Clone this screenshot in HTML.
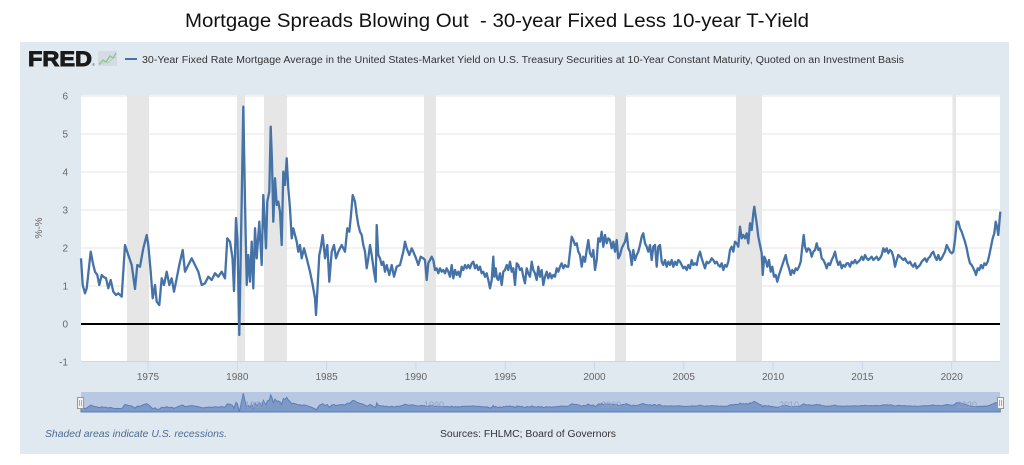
<!DOCTYPE html>
<html>
<head>
<meta charset="utf-8">
<style>
html,body{margin:0;padding:0;background:#fff;width:1024px;height:465px;overflow:hidden;}
svg{display:block;}
text{font-family:"Liberation Sans",sans-serif;}
</style>
</head>
<body>
<svg width="1024" height="465" viewBox="0 0 1024 465" xmlns="http://www.w3.org/2000/svg">
  <!-- Title -->
  <text x="185" y="27" font-size="19" fill="#111" textLength="624" lengthAdjust="spacingAndGlyphs" style="white-space:pre">Mortgage Spreads Blowing Out  - 30-year Fixed Less 10-year T-Yield</text>

  <!-- Panel -->
  <rect x="20" y="42" width="989" height="412" fill="#e1e9f0"/>

  <!-- FRED logo -->
  <text x="28" y="66" font-size="21" font-weight="bold" fill="#1a1a1a" stroke="#1a1a1a" stroke-width="0.9" textLength="64" lengthAdjust="spacingAndGlyphs">FRED</text>
  <text x="92" y="66" font-size="4" fill="#555">®</text>
  <rect x="98" y="51" width="19" height="15" fill="#d3dbe3"/>
  <polyline points="99,64 103,60 106,62 110,56 113,58 116,53" fill="none" stroke="#8fc18f" stroke-width="1.2"/>
  <polyline points="99,65 104,62 108,63 112,59 116,57" fill="none" stroke="#a9cfa9" stroke-width="0.8"/>

  <!-- Legend -->
  <line x1="125" y1="59" x2="137" y2="59" stroke="#4572a7" stroke-width="2"/>
  <text x="142" y="63" font-size="10" fill="#333" textLength="762" lengthAdjust="spacingAndGlyphs">30-Year Fixed Rate Mortgage Average in the United States-Market Yield on U.S. Treasury Securities at 10-Year Constant Maturity, Quoted on an Investment Basis</text>

  <!-- Plot area -->
  <rect x="81" y="95" width="919" height="267" fill="#ffffff"/>

  <!-- Recessions -->
  <g fill="#e6e6e6">
    <rect x="127" y="95" width="22" height="267"/>
    <rect x="237" y="95" width="8" height="267"/>
    <rect x="264" y="95" width="23" height="267"/>
    <rect x="424" y="95" width="12" height="267"/>
    <rect x="615" y="95" width="11" height="267"/>
    <rect x="736" y="95" width="26" height="267"/>
    <rect x="952.5" y="95" width="3.5" height="267"/>
  </g>

  <!-- Grid -->
  <g stroke="#e6e6e6" stroke-width="1">
    <line x1="81" y1="96" x2="1000" y2="96"/>
    <line x1="81" y1="134" x2="1000" y2="134"/>
    <line x1="81" y1="172" x2="1000" y2="172"/>
    <line x1="81" y1="210" x2="1000" y2="210"/>
    <line x1="81" y1="248" x2="1000" y2="248"/>
    <line x1="81" y1="286" x2="1000" y2="286"/>
    <line x1="81" y1="361.5" x2="1000" y2="361.5" stroke="#ccd6eb"/>
  </g>

  <!-- X ticks -->
  <g stroke="#ccd6eb" stroke-width="1">
    <line x1="148" y1="362" x2="148" y2="370"/>
    <line x1="237.3" y1="362" x2="237.3" y2="370"/>
    <line x1="326.6" y1="362" x2="326.6" y2="370"/>
    <line x1="415.9" y1="362" x2="415.9" y2="370"/>
    <line x1="505.2" y1="362" x2="505.2" y2="370"/>
    <line x1="594.5" y1="362" x2="594.5" y2="370"/>
    <line x1="683.8" y1="362" x2="683.8" y2="370"/>
    <line x1="773.1" y1="362" x2="773.1" y2="370"/>
    <line x1="862.4" y1="362" x2="862.4" y2="370"/>
    <line x1="951.7" y1="362" x2="951.7" y2="370"/>
  </g>

  <!-- Y labels -->
  <g font-size="10" fill="#666" text-anchor="end">
    <text x="68" y="99.5">6</text>
    <text x="68" y="137.5">5</text>
    <text x="68" y="175.5">4</text>
    <text x="68" y="213.5">3</text>
    <text x="68" y="251.5">2</text>
    <text x="68" y="289.5">1</text>
    <text x="68" y="327.5">0</text>
    <text x="68" y="365.5">-1</text>
  </g>
  <text x="0" y="0" font-size="10" fill="#666" text-anchor="middle" transform="translate(42,228) rotate(-90)">%-%</text>

  <!-- X labels -->
  <g font-size="10" fill="#666" text-anchor="middle">
    <text x="148" y="380">1975</text>
    <text x="237.3" y="380">1980</text>
    <text x="326.6" y="380">1985</text>
    <text x="415.9" y="380">1990</text>
    <text x="505.2" y="380">1995</text>
    <text x="594.5" y="380">2000</text>
    <text x="683.8" y="380">2005</text>
    <text x="773.1" y="380">2010</text>
    <text x="862.4" y="380">2015</text>
    <text x="951.7" y="380">2020</text>
  </g>

  <!-- Zero line -->
  <line x1="81" y1="324" x2="1000" y2="324" stroke="#000" stroke-width="2"/>

  <!-- Series -->
  <polyline fill="none" stroke="#4572a7" stroke-width="2.3" stroke-linejoin="round" points="81,258.3 82.7,285 85,293.3 86.7,288.3 90.7,251.7 93.3,265 95,271.7 97.3,275 99.3,285 101.7,275 103.3,276.7 106,278.3 108.3,288.3 110.7,280 113.3,291.7 116,295 118.3,293.3 121.7,296.7 125,245 128.3,255 131.7,265 135,289 137.3,265 140,266.7 143.3,248.3 146.7,235 148.3,245 150.7,271.7 152.7,298.3 155,285 156.7,301.7 159.3,305 161.7,278.3 164,285 166.7,271.7 169.3,285 171.7,278.3 174,291.7 176.7,278.3 179.3,265 182.7,250 185,271.7 188.3,265 191.7,258.3 195,265 198.3,271.7 201.7,285 205,283.3 208.3,276.7 211.7,280 215,273.3 218.3,276.7 221.7,271.7 225,278.3 227.3,238.3 230,241.7 232.5,258 234,291 236,218 237.5,240 239.3,335 241.7,200 243.3,106.7 245,201.7 246.7,285 248.3,255 250,281.7 251.7,241.7 253.3,288.3 255,228.3 256.7,258.3 259.3,221.7 261.7,265 263.3,195 266,248.3 267.3,201.7 269.3,191.7 270.7,126.7 272,161.7 273.3,221.7 275,178.3 276.7,205 278.3,201.7 280,211.7 281.7,245 283.3,171.7 285,185 286.7,158.3 288.3,188.3 290,208.3 291.7,238.3 293.3,228.3 296.7,241.7 298.3,251.7 300,245 301.7,258.3 304,248.3 306.7,258.3 310,271.7 312.7,285 315,298.3 316,315 317.3,291.7 319.3,255 320.7,248.3 322.7,235 325,258.3 327.3,245 329.3,281.7 331.7,251.7 334,245 336,258.3 338.3,251.7 341.7,245 345,251.7 347.3,228.3 349.3,231.7 350.7,218.3 352.7,195 355,201.7 356.7,215 358.3,225 360,231.7 361.7,235 363.3,245 365,251.7 366.7,268.3 368.3,258.3 370,245 371.7,255 374,271.7 375.7,281.7 376.7,225 378.3,255 380,258.3 381.7,265 383.3,261.7 385,271.7 386.7,265 389.3,275 391.7,265 394,276.7 396.7,266.7 400,265 403.3,251.7 405,241.7 406.7,248.3 409.3,255 411.7,248.3 413.3,251.7 416,258.3 418.3,265 420.7,256.7 423.3,258.3 425,260 426.7,280 428.3,263 430,260 431.7,256.7 433.3,260 435,270 436.7,268.3 438.3,273.3 440,268.3 441.7,271.7 443.3,270 445,273.3 446.7,268.3 448.3,271.7 450,276.7 451.7,265 453.3,278.3 455,270 456.7,275 458.3,271.7 460,276.7 461.7,266.7 463.3,270 465,265 466.7,268.3 468.3,265 470,268.3 471.7,263.3 473.3,261.7 475,268.3 476.7,265 478.3,270 480,266.7 481.7,273.3 483.3,271.7 485,276.7 486.7,273.3 488.3,280 490,288.3 491.7,280 493.3,256.7 494.3,276.7 495.7,268.3 497,278.3 498.3,280 500,273.3 501.7,285 503.3,271.7 505,270 506.7,265 508.3,270 510,261.7 511.7,271.7 513.3,268.3 515,285 516.7,263.3 518.3,265 520,270 521.7,268.3 523.3,276.7 525,283.3 526.7,268.3 528.3,273.3 530,276.7 531.7,261.7 533.3,270 535,273.3 536.7,280 538.3,266.7 540,276.7 541.7,270 543.3,285 545,276.7 546.7,271.7 548.3,278.3 550,273.3 551.7,278.3 553.3,275 555,276.7 556.7,268.3 558.3,271.7 560,266.7 561.7,263.3 563.3,268.3 565,265 566.7,266.7 568.3,266.7 570,251.7 571.7,236.7 573.3,240 575,245 576.7,243.3 578.3,251.7 580,255 581.7,266.7 583.3,256.7 585,261.7 586.7,250 588.3,240 590,253.3 591.7,256.7 593.3,250 595,270 596.7,260 598.3,238.3 600,241.7 601.7,231.7 603.3,246.7 605,235 606.7,243.3 608.3,238.3 610,240 611.7,248.3 613.3,241.7 615,251.7 616.7,240 618.3,258.3 620,255 621.7,248.3 623.3,245 625,241.7 626.7,233.3 628.3,248.3 630,251.7 631.7,265 633.3,250 635,260 636.7,255 638.3,251.7 640,245 641.7,236.7 643.3,233.3 645,243.3 646.7,246.7 648.3,251.7 650,245 651.7,260 653.3,246.7 655,245 656.7,266.7 658.3,246.7 660,245 661.7,261.7 663.3,265 665,260 666.7,266.7 668.3,261.7 670,265 671.7,260 673.3,266.7 675,261.7 676.7,265 678.3,260 680,261.7 681.7,265 683.3,268.3 685,266.7 686.7,270 688.3,265 690,268.3 691.7,260 693.3,265 695,263.3 696.7,265 698.3,256.7 700,251.7 701.7,258.3 703.3,263.3 705,268.3 706.7,261.7 708.3,263.3 710,261.7 711.7,258.3 713.3,260 715,263.3 716.7,261.7 718.3,265 720,266.7 721.7,263.3 723.3,270 725,265 726.7,266.7 728.3,261.7 730,250 731.7,246.7 733.3,251.7 735,241.7 736.7,243.3 738.3,246.7 740,226.7 741.7,238.3 743.3,235 745,238.3 746.7,233.3 748.3,243.3 750,223.3 751.7,230 753.3,213.3 754.3,206.7 755.7,216.7 756.7,223.3 758.3,236.7 760,245 761.7,253.3 762.7,275 764.3,256.7 765.7,260 767.3,266.7 769,260 770.7,271.7 772.3,266.7 774,276.7 775.7,275 777.3,281.7 779,275 780.7,270 782.3,265 784,260 785.7,255 787.3,263.3 789,268.3 790.7,275 792.3,270 794,273.3 795.7,268.3 797.3,270 799,266.7 800.7,261.7 802.3,246.7 803.7,235 805,246.7 806.7,251.7 808.3,248.3 810,250 811.7,256.7 813.3,251.7 815,250 816.7,243.3 818.3,250 820,248.3 821.7,258.3 823.3,260 825,263.3 826.7,268.3 828.3,263.3 830,265 831.7,260 833.3,256.7 835,251.7 836.7,260 838.3,265 840,261.7 841.7,268.3 843.3,265 845,266.7 846.7,263.3 848.3,263.3 850,266.7 851.7,261.7 853.3,263.3 855,260 856.7,263.3 858.3,261.7 860,260 861.7,256.7 863.3,260 865,255 866.7,258.3 868.3,260 870,258.3 871.7,256.7 873.3,260 875,258.3 876.7,256.7 878.3,260 880,258.3 881.7,255 883.3,248.3 885,251.7 886.7,248.3 888.3,253.3 890,250 891.7,251.7 893.3,256.7 895,266.7 896.7,260 898.3,255 900,256.7 901.7,258.3 903.3,260 905,258.3 906.7,261.7 908.3,263.3 910,261.7 911.7,265 913.3,266.7 915,263.3 916.7,268.3 918.3,266.7 920,265 921.7,261.7 923.3,260 925,258.3 926.7,261.7 928.3,258.3 930,256.7 931.7,253.3 933.3,251.7 935,256.7 936.7,260 938.3,255 940,260 941.7,258.3 943.3,255 945,251.7 946.7,245 948.3,248.3 950,251.7 951.7,253.3 953.3,251.7 955,240 956.7,221.7 958.3,221.7 960,228.3 961.7,231.7 963.3,236.7 965,241.7 966.7,248.3 968.3,256.7 970,263.3 971.7,265 973.3,268.3 975,271.7 976,275 977.7,268.3 979.3,270 981,265 982.7,268.3 984.3,263.3 986,265 987.7,261.7 989.3,255 991,246.7 992.7,238.3 994.3,233.3 995.7,221.7 997,226.7 998.3,235 999.3,223.3 1000.3,211.7"/>

  <!-- Navigator -->
  <rect x="81" y="392" width="919" height="20" fill="#b9c8e2"/>
  <g transform="matrix(1 0 0 0.0816 0 384.5)">
    <polygon fill="#7c99c7" stroke="#5b7fb4" stroke-width="1" vector-effect="non-scaling-stroke" points="81,258.3 82.7,285 85,293.3 86.7,288.3 90.7,251.7 93.3,265 95,271.7 97.3,275 99.3,285 101.7,275 103.3,276.7 106,278.3 108.3,288.3 110.7,280 113.3,291.7 116,295 118.3,293.3 121.7,296.7 125,245 128.3,255 131.7,265 135,289 137.3,265 140,266.7 143.3,248.3 146.7,235 148.3,245 150.7,271.7 152.7,298.3 155,285 156.7,301.7 159.3,305 161.7,278.3 164,285 166.7,271.7 169.3,285 171.7,278.3 174,291.7 176.7,278.3 179.3,265 182.7,250 185,271.7 188.3,265 191.7,258.3 195,265 198.3,271.7 201.7,285 205,283.3 208.3,276.7 211.7,280 215,273.3 218.3,276.7 221.7,271.7 225,278.3 227.3,238.3 230,241.7 232.5,258 234,291 236,218 237.5,240 239.3,335 241.7,200 243.3,106.7 245,201.7 246.7,285 248.3,255 250,281.7 251.7,241.7 253.3,288.3 255,228.3 256.7,258.3 259.3,221.7 261.7,265 263.3,195 266,248.3 267.3,201.7 269.3,191.7 270.7,126.7 272,161.7 273.3,221.7 275,178.3 276.7,205 278.3,201.7 280,211.7 281.7,245 283.3,171.7 285,185 286.7,158.3 288.3,188.3 290,208.3 291.7,238.3 293.3,228.3 296.7,241.7 298.3,251.7 300,245 301.7,258.3 304,248.3 306.7,258.3 310,271.7 312.7,285 315,298.3 316,315 317.3,291.7 319.3,255 320.7,248.3 322.7,235 325,258.3 327.3,245 329.3,281.7 331.7,251.7 334,245 336,258.3 338.3,251.7 341.7,245 345,251.7 347.3,228.3 349.3,231.7 350.7,218.3 352.7,195 355,201.7 356.7,215 358.3,225 360,231.7 361.7,235 363.3,245 365,251.7 366.7,268.3 368.3,258.3 370,245 371.7,255 374,271.7 375.7,281.7 376.7,225 378.3,255 380,258.3 381.7,265 383.3,261.7 385,271.7 386.7,265 389.3,275 391.7,265 394,276.7 396.7,266.7 400,265 403.3,251.7 405,241.7 406.7,248.3 409.3,255 411.7,248.3 413.3,251.7 416,258.3 418.3,265 420.7,256.7 423.3,258.3 425,260 426.7,280 428.3,263 430,260 431.7,256.7 433.3,260 435,270 436.7,268.3 438.3,273.3 440,268.3 441.7,271.7 443.3,270 445,273.3 446.7,268.3 448.3,271.7 450,276.7 451.7,265 453.3,278.3 455,270 456.7,275 458.3,271.7 460,276.7 461.7,266.7 463.3,270 465,265 466.7,268.3 468.3,265 470,268.3 471.7,263.3 473.3,261.7 475,268.3 476.7,265 478.3,270 480,266.7 481.7,273.3 483.3,271.7 485,276.7 486.7,273.3 488.3,280 490,288.3 491.7,280 493.3,256.7 494.3,276.7 495.7,268.3 497,278.3 498.3,280 500,273.3 501.7,285 503.3,271.7 505,270 506.7,265 508.3,270 510,261.7 511.7,271.7 513.3,268.3 515,285 516.7,263.3 518.3,265 520,270 521.7,268.3 523.3,276.7 525,283.3 526.7,268.3 528.3,273.3 530,276.7 531.7,261.7 533.3,270 535,273.3 536.7,280 538.3,266.7 540,276.7 541.7,270 543.3,285 545,276.7 546.7,271.7 548.3,278.3 550,273.3 551.7,278.3 553.3,275 555,276.7 556.7,268.3 558.3,271.7 560,266.7 561.7,263.3 563.3,268.3 565,265 566.7,266.7 568.3,266.7 570,251.7 571.7,236.7 573.3,240 575,245 576.7,243.3 578.3,251.7 580,255 581.7,266.7 583.3,256.7 585,261.7 586.7,250 588.3,240 590,253.3 591.7,256.7 593.3,250 595,270 596.7,260 598.3,238.3 600,241.7 601.7,231.7 603.3,246.7 605,235 606.7,243.3 608.3,238.3 610,240 611.7,248.3 613.3,241.7 615,251.7 616.7,240 618.3,258.3 620,255 621.7,248.3 623.3,245 625,241.7 626.7,233.3 628.3,248.3 630,251.7 631.7,265 633.3,250 635,260 636.7,255 638.3,251.7 640,245 641.7,236.7 643.3,233.3 645,243.3 646.7,246.7 648.3,251.7 650,245 651.7,260 653.3,246.7 655,245 656.7,266.7 658.3,246.7 660,245 661.7,261.7 663.3,265 665,260 666.7,266.7 668.3,261.7 670,265 671.7,260 673.3,266.7 675,261.7 676.7,265 678.3,260 680,261.7 681.7,265 683.3,268.3 685,266.7 686.7,270 688.3,265 690,268.3 691.7,260 693.3,265 695,263.3 696.7,265 698.3,256.7 700,251.7 701.7,258.3 703.3,263.3 705,268.3 706.7,261.7 708.3,263.3 710,261.7 711.7,258.3 713.3,260 715,263.3 716.7,261.7 718.3,265 720,266.7 721.7,263.3 723.3,270 725,265 726.7,266.7 728.3,261.7 730,250 731.7,246.7 733.3,251.7 735,241.7 736.7,243.3 738.3,246.7 740,226.7 741.7,238.3 743.3,235 745,238.3 746.7,233.3 748.3,243.3 750,223.3 751.7,230 753.3,213.3 754.3,206.7 755.7,216.7 756.7,223.3 758.3,236.7 760,245 761.7,253.3 762.7,275 764.3,256.7 765.7,260 767.3,266.7 769,260 770.7,271.7 772.3,266.7 774,276.7 775.7,275 777.3,281.7 779,275 780.7,270 782.3,265 784,260 785.7,255 787.3,263.3 789,268.3 790.7,275 792.3,270 794,273.3 795.7,268.3 797.3,270 799,266.7 800.7,261.7 802.3,246.7 803.7,235 805,246.7 806.7,251.7 808.3,248.3 810,250 811.7,256.7 813.3,251.7 815,250 816.7,243.3 818.3,250 820,248.3 821.7,258.3 823.3,260 825,263.3 826.7,268.3 828.3,263.3 830,265 831.7,260 833.3,256.7 835,251.7 836.7,260 838.3,265 840,261.7 841.7,268.3 843.3,265 845,266.7 846.7,263.3 848.3,263.3 850,266.7 851.7,261.7 853.3,263.3 855,260 856.7,263.3 858.3,261.7 860,260 861.7,256.7 863.3,260 865,255 866.7,258.3 868.3,260 870,258.3 871.7,256.7 873.3,260 875,258.3 876.7,256.7 878.3,260 880,258.3 881.7,255 883.3,248.3 885,251.7 886.7,248.3 888.3,253.3 890,250 891.7,251.7 893.3,256.7 895,266.7 896.7,260 898.3,255 900,256.7 901.7,258.3 903.3,260 905,258.3 906.7,261.7 908.3,263.3 910,261.7 911.7,265 913.3,266.7 915,263.3 916.7,268.3 918.3,266.7 920,265 921.7,261.7 923.3,260 925,258.3 926.7,261.7 928.3,258.3 930,256.7 931.7,253.3 933.3,251.7 935,256.7 936.7,260 938.3,255 940,260 941.7,258.3 943.3,255 945,251.7 946.7,245 948.3,248.3 950,251.7 951.7,253.3 953.3,251.7 955,240 956.7,221.7 958.3,221.7 960,228.3 961.7,231.7 963.3,236.7 965,241.7 966.7,248.3 968.3,256.7 970,263.3 971.7,265 973.3,268.3 975,271.7 976,275 977.7,268.3 979.3,270 981,265 982.7,268.3 984.3,263.3 986,265 987.7,261.7 989.3,255 991,246.7 992.7,238.3 994.3,233.3 995.7,221.7 997,226.7 998.3,235 999.3,223.3 1000.3,211.7 1000.3,337.3 81,337.3"/>
  </g>
  <g font-size="9" fill="#8ea2c6">
    <text x="245" y="408">1980</text>
    <text x="424" y="408">1990</text>
    <text x="601" y="408">2000</text>
    <text x="779" y="408">2010</text>
    <text x="957" y="408">2020</text>
  </g>
  <!-- Handles -->
  <rect x="77.5" y="397.5" width="6" height="11" fill="#f2f2f2" stroke="#999" stroke-width="1"/>
  <line x1="79.5" y1="400" x2="79.5" y2="406" stroke="#999" stroke-width="0.8"/>
  <line x1="81.5" y1="400" x2="81.5" y2="406" stroke="#999" stroke-width="0.8"/>
  <rect x="997.5" y="397.5" width="6" height="11" fill="#f2f2f2" stroke="#999" stroke-width="1"/>
  <line x1="999.5" y1="400" x2="999.5" y2="406" stroke="#999" stroke-width="0.8"/>
  <line x1="1001.5" y1="400" x2="1001.5" y2="406" stroke="#999" stroke-width="0.8"/>

  <!-- Footer -->
  <text x="45" y="437" font-size="10.5" font-style="italic" fill="#4d6c95" textLength="182" lengthAdjust="spacingAndGlyphs">Shaded areas indicate U.S. recessions.</text>
  <text x="440" y="437" font-size="10.5" fill="#333" textLength="176" lengthAdjust="spacingAndGlyphs">Sources: FHLMC; Board of Governors</text>
</svg>
</body>
</html>
